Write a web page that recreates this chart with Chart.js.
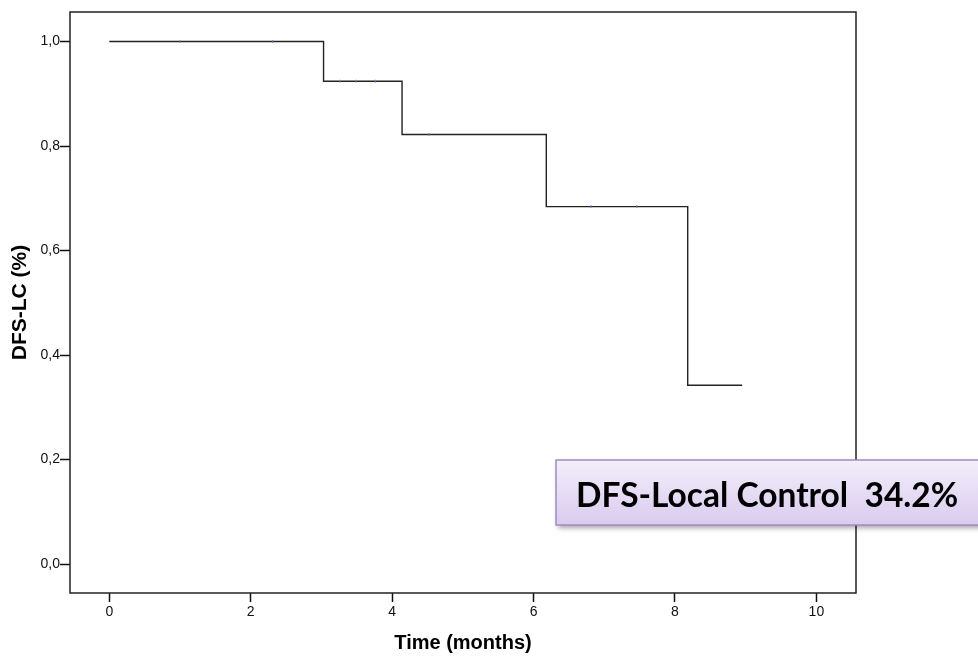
<!DOCTYPE html>
<html>
<head>
<meta charset="utf-8">
<script src="https://cdn.jsdelivr.net/npm/chart.js@4"></script>
<style>
  html, body { margin: 0; padding: 0; background: #fff; }
  #wrap { width: 978px; height: 659px; position: relative; }
</style>
</head>
<body>
<div id="wrap"><canvas id="myChart" width="978" height="659"></canvas></div>
<script>
// Kaplan-Meier steps
const eventTimes = [0, 3.03, 4.14, 6.18, 8.18, 8.95];
const survival = [1.0, 0.924, 0.822, 0.684, 0.342, 0.342];
// censored cases (tiny ticks on the curve)
const censorTimes = [1.0, 2.31, 3.26, 3.49, 3.76, 4.52, 6.81, 7.46];
const xTicks = [0, 2, 4, 6, 8, 10];
const yTicks = [0, 0.2, 0.4, 0.6, 0.8, 1.0];
const boxLabel = 'DFS-Local Control  34.2%';

function survivalAt(t) {
    let s = survival[0];
    for (let i = 0; i < eventTimes.length; i++) {
        if (eventTimes[i] <= t) s = survival[i];
    }
    return s;
}

const curve = eventTimes.map((t, i) => ({x: t, y: survival[i]}));
const censored = censorTimes.map(t => ({x: t, y: survivalAt(t)}));

// frame around the plot + annotation box
const framePlugin = {
    id: 'frame',
    afterDraw(chart) {
        const ctx = chart.ctx;
        const a = chart.chartArea;
        ctx.save();
        ctx.strokeStyle = '#222';
        ctx.lineWidth = 1.5;
        ctx.strokeRect(a.left, a.top, a.right - a.left, a.bottom - a.top);

        // annotation box
        const bx = 556, by = 460, bw = 430, bh = 65;
        ctx.shadowColor = 'rgba(0,0,0,0.35)';
        ctx.shadowBlur = 5;
        ctx.shadowOffsetX = 2;
        ctx.shadowOffsetY = 3;
        const g = ctx.createLinearGradient(0, by, 0, by + bh);
        g.addColorStop(0, '#f3effa');
        g.addColorStop(1, '#d9cbee');
        ctx.fillStyle = g;
        ctx.fillRect(bx, by, bw, bh);
        ctx.shadowColor = 'transparent';
        ctx.strokeStyle = '#9f8cc4';
        ctx.lineWidth = 1.5;
        ctx.strokeRect(bx, by, bw, bh);

        ctx.fillStyle = '#000';
        ctx.font = 'bold 33.5px Lato';
        ctx.textBaseline = 'middle';
        ctx.textAlign = 'left';
        ctx.fillText(boxLabel, 576, by + bh / 2 + 4);
        ctx.restore();
    }
};

const ctx = document.getElementById('myChart').getContext('2d');

const config = {
    type: 'scatter',
    plugins: [framePlugin],
    data: {
        datasets: [{
            label: 'DFS-LC',
            data: curve,
            showLine: true,
            stepped: 'before',
            borderColor: '#222',
            borderWidth: 1.4,
            pointRadius: 0,
            order: 2
        }, {
            label: 'censored',
            data: censored,
            showLine: false,
            pointStyle: 'line',
            rotation: 90,
            pointRadius: 1.5,
            borderColor: '#6a7fd0',
            borderWidth: 1,
            order: 1
        }]
    },
    options: {
        responsive: false,
        animation: false,
        layout: {
            padding: {left: 0, right: 122, top: 12, bottom: 0}
        },
        plugins: {
            legend: {display: false},
            tooltip: {enabled: false}
        },
        scales: {
            x: {
                type: 'linear',
                min: -0.556,
                max: 10.56,
                afterBuildTicks: scale => { scale.ticks = xTicks.map(v => ({value: v})); },
                afterFit: scale => { scale.height = 66; },
                grid: {
                    drawOnChartArea: false,
                    drawTicks: true,
                    tickLength: 9,
                    tickColor: '#111',
                    tickWidth: 1.5
                },
                border: {display: false},
                ticks: {
                    color: '#111',
                    font: {family: 'Arial', size: 14},
                    padding: 2,
                    maxRotation: 0,
                    callback: v => String(v)
                },
                title: {
                    display: true,
                    text: 'Time (months)',
                    color: '#000',
                    font: {family: 'Arial', size: 20, weight: 'bold'},
                    padding: {top: 12}
                }
            },
            y: {
                type: 'linear',
                min: -0.0555,
                max: 1.0565,
                afterBuildTicks: scale => { scale.ticks = yTicks.map(v => ({value: v})); },
                afterFit: scale => { scale.width = 70; },
                grid: {
                    drawOnChartArea: false,
                    drawTicks: true,
                    tickLength: 10,
                    tickColor: '#111',
                    tickWidth: 1.5
                },
                border: {display: false},
                ticks: {
                    color: '#111',
                    font: {family: 'Arial', size: 14},
                    padding: 0,
                    callback: v => v.toFixed(1).replace('.', ',')
                },
                title: {
                    display: true,
                    text: 'DFS-LC (%)',
                    color: '#000',
                    font: {family: 'Arial', size: 21, weight: 'bold'},
                    padding: {top: 8, bottom: 0}
                }
            }
        }
    }
};

const myChart = new Chart(ctx, config);
</script>
</body>
</html>
